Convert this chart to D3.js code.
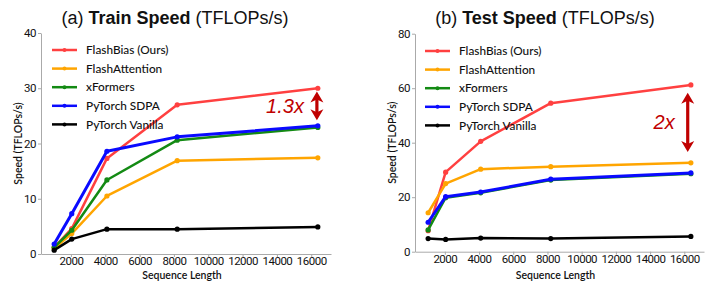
<!DOCTYPE html>
<html>
<head>
<meta charset="utf-8">
<script src="https://cdn.jsdelivr.net/npm/d3@7"></script>
<style>
  body { margin: 0; background: #fff; }
  .tick text { font-family: "Roboto", sans-serif; font-size: 11.5px; letter-spacing: -0.5px; fill: #111; }
  .axis path, .axis line { stroke: #aaa; }
  .legend-text { font-family: "Lato", "Open Sans", sans-serif; font-size: 11.8px; font-weight: 500; fill: #111; }
  .axis-label { font-family: "Lato", "Open Sans", sans-serif; font-size: 10.5px; font-weight: 600; fill: #111; }
  .title { font-family: "Liberation Sans", Arial, sans-serif; font-size: 18px; fill: #111; }
  .note { font-family: "Liberation Sans", Arial, sans-serif; font-size: 20px; font-style: italic; fill: #c00000; }
</style>
</head>
<body>
<svg id="chart" width="714" height="286"></svg>
<script>
// sequence lengths on the x axis
const seqLengths = [1024, 2048, 4096, 8192, 16384];
const methods = ['FlashBias (Ours)', 'FlashAttention', 'xFormers', 'PyTorch SDPA', 'PyTorch Vanilla'];
const colors = ['#ff4040', '#ffa500', '#138a13', '#0a0aff', '#000000'];
const xTicks = [2000, 4000, 6000, 8000, 10000, 12000, 14000, 16000];

// (a) train speed, TFLOPs/s
const trainFlashBias = [1.2, 4.6, 17.3, 27.0, 30.0];
const trainFlashAttn = [1.0, 3.7, 10.5, 16.9, 17.4];
const trainXFormers  = [1.2, 4.3, 13.4, 20.6, 22.9];
const trainSDPA      = [1.8, 7.3, 18.6, 21.2, 23.2];
const trainVanilla   = [0.7, 2.7, 4.5, 4.5, 4.9];

// (b) test speed, TFLOPs/s
const testFlashBias = [7.7, 29.2, 40.5, 54.5, 61.2];
const testFlashAttn = [14.3, 25.0, 30.3, 31.2, 32.6];
const testXFormers  = [8.0, 19.8, 21.6, 26.3, 28.6];
const testSDPA      = [10.8, 20.2, 21.9, 26.6, 28.9];
const testVanilla   = [4.8, 4.5, 5.0, 4.8, 5.6];

const svg = d3.select('#chart');

function drawPanel(cfg) {
    const x = d3.scaleLinear().domain([256, 17152]).range([cfg.left, cfg.right]);
    const y = d3.scaleLinear().domain([0, cfg.yMax]).range([cfg.bottom, cfg.top]);
    const g = svg.append('g');

    g.append('g')
        .attr('class', 'axis')
        .attr('transform', `translate(0,${cfg.bottom})`)
        .call(d3.axisBottom(x).tickValues(xTicks).tickSize(3).tickSizeOuter(0).tickPadding(0).tickFormat(d3.format('d')));

    g.append('g')
        .attr('class', 'axis')
        .attr('transform', `translate(${cfg.left},0)`)
        .call(d3.axisLeft(y).tickValues(cfg.yTicks).tickSize(3).tickSizeOuter(0).tickPadding(2));

    const line = d3.line().x((d, i) => x(seqLengths[i])).y(d => y(d));

    cfg.series.forEach((s, k) => {
        g.append('path')
            .datum(s)
            .attr('fill', 'none')
            .attr('stroke', colors[k])
            .attr('stroke-width', k === 3 ? 3 : 2.5)
            .attr('stroke-linejoin', 'round')
            .attr('d', line);
        g.selectAll(null)
            .data(s)
            .join('circle')
            .attr('cx', (d, i) => x(seqLengths[i]))
            .attr('cy', d => y(d))
            .attr('r', 2.6)
            .attr('fill', colors[k]);
    });

    // legend
    const lg = g.append('g').attr('transform', `translate(${cfg.legendX},${cfg.legendY})`);
    methods.forEach((m, k) => {
        const row = lg.append('g').attr('transform', `translate(0,${k * 18.6})`);
        row.append('line').attr('x1', 0).attr('x2', 25).attr('stroke', colors[k]).attr('stroke-width', 2.5);
        row.append('circle').attr('cx', 12.5).attr('r', 2).attr('fill', colors[k]);
        row.append('text').attr('class', 'legend-text').attr('x', 34).attr('dy', '0.35em').text(m);
    });

    // titles
    const t = g.append('text').attr('class', 'title').attr('x', cfg.titleX).attr('y', 24).attr('text-anchor', 'middle');
    t.append('tspan').text(cfg.prefix + ' ');
    t.append('tspan').attr('font-weight', 'bold').text(cfg.name);
    t.append('tspan').text(' (TFLOPs/s)');

    g.append('text').attr('class', 'axis-label')
        .attr('x', (cfg.left + cfg.right) / 2 - 4).attr('y', 279)
        .attr('text-anchor', 'middle').text('Sequence Length');
    g.append('text').attr('class', 'axis-label')
        .attr('transform', `translate(${cfg.left - 19},${(cfg.top + cfg.bottom) / 2}) rotate(-90)`)
        .attr('text-anchor', 'middle').text('Speed (TFLOPs/s)');

    // ratio arrow
    const ax = x(cfg.arrow.x);
    const y1 = y(cfg.arrow.from), y2 = y(cfg.arrow.to);
    g.append('line').attr('x1', ax).attr('x2', ax).attr('y1', y1 + 6).attr('y2', y2 - 6)
        .attr('stroke', '#c00000').attr('stroke-width', 3.2);
    [[y1, 1], [y2, -1]].forEach(([yy, dir]) => {
        g.append('path')
            .attr('d', `M${ax},${yy} L${ax - 6.5},${yy + dir * 11} L${ax},${yy + dir * 8} L${ax + 6.5},${yy + dir * 11} Z`)
            .attr('fill', '#c00000');
    });
    g.append('text').attr('class', 'note')
        .attr('x', ax - 13).attr('y', (y1 + y2) / 2 + 7)
        .attr('text-anchor', 'end').text(cfg.arrow.label);
}

drawPanel({
    left: 41, right: 331, top: 33, bottom: 254, yMax: 40, yTicks: [0, 10, 20, 30, 40],
    series: [trainFlashBias, trainFlashAttn, trainXFormers, trainSDPA, trainVanilla],
    legendX: 52, legendY: 50, titleX: 175, prefix: '(a)', name: 'Train Speed',
    arrow: { x: 16330, from: 29.4, to: 24.2, label: '1.3x' }
});

drawPanel({
    left: 415, right: 704, top: 33.7, bottom: 251.7, yMax: 80, yTicks: [0, 20, 40, 60, 80],
    series: [testFlashBias, testFlashAttn, testXFormers, testSDPA, testVanilla],
    legendX: 425, legendY: 51, titleX: 545, prefix: '(b)', name: 'Test Speed',
    arrow: { x: 16200, from: 58.3, to: 36.6, label: '2x' }
});
</script>
</body>
</html>
